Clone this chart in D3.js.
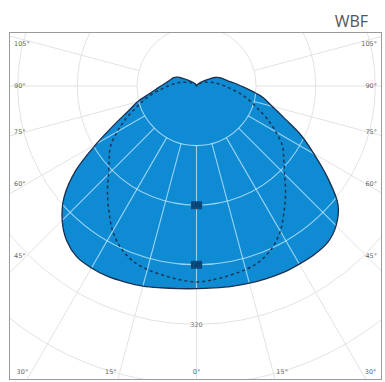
<!DOCTYPE html>
<html>
<head>
<meta charset="utf-8">
<script src="https://cdn.jsdelivr.net/npm/d3@7"></script>
<style>
  html, body { margin: 0; padding: 0; background: #fff; }
  svg { display: block; }
</style>
</head>
<body>
<svg id="chart" width="385" height="382"></svg>
<script>
// ---- data ----
const title = "WBF";
const gammas = [0,5,10,15,20,25,30,35,40,45,50,55,60,65,70,75,80,85,90,95,100,105,110,115,120,125,130,140,150,160,170,180];
// C0 plane (right half), cd/klm
const c0 = [272,272,273,274,275,276,276,276,274,265,248,215,182,154,125,105,91,74,60,50,42,37,33,27,18,12,8,4,2,1,0.5,0];
// C180 plane (left half), cd/klm
const c180 = [272,273,275,278,280,282,282,280,271,255,232,198,155,121,97,82,66,55,48,42,38,35,33,28,20,14,10,5,3,1.5,0.5,0];
// C90/C270 plane (dashed), cd/klm
const c90 = [263,261,258,255,250,240,225,205,186,167,153,141,123,105,87,73,60,47,38,31,25,20,15,12,9,7,5,3,2,1,0.5,0];
const ringValues = [80,160,240,320,400,480];
const ringLabels = ["160","240","320"];
const gridAngles = [-105,-90,-75,-60,-45,-30,-15,0,15,30,45,60,75,90,105];
const sideLabels = ["105°","90°","75°","60°","45°"];
const sideLabelAngles = [105,90,75,60,45];
const bottomLabels = ["30°","15°","0°","15°","30°"];
const bottomLabelAngles = [-30,-15,0,15,30];

// ---- layout ----
const svg = d3.select("#chart");
const cx = 196.5, cy = 86;
const frame = {x: 9.5, y: 32.5, w: 372, h: 347};
const r = d3.scaleLinear().domain([0, 400]).range([0, 298]);
const rad = d => d * Math.PI / 180;

svg.append("text").attr("x", 368).attr("y", 27).attr("text-anchor", "end")
  .attr("font-family", "'Open Sans', sans-serif").attr("font-size", 16)
  .attr("fill", "#555").text(title);

const defs = svg.append("defs");
defs.append("clipPath").attr("id", "frameClip").append("rect")
  .attr("x", frame.x).attr("y", frame.y).attr("width", frame.w).attr("height", frame.h);

// shape data
const right = gammas.map((g, i) => ({a: Math.PI - rad(g), v: c0[i]}));
const left = gammas.map((g, i) => ({a: Math.PI + rad(g), v: c180[i]})).reverse().slice(1, -1);
const mainPts = right.concat(left);
const rightD = gammas.map((g, i) => ({a: Math.PI - rad(g), v: c90[i]}));
const leftD = gammas.map((g, i) => ({a: Math.PI + rad(g), v: c90[i]})).reverse().slice(1, -1);
const dashPts = rightD.concat(leftD);

const radial = d3.lineRadial().angle(d => d.a).radius(d => r(d.v))
  .curve(d3.curveCatmullRomClosed.alpha(0.5));

const plot = svg.append("g").attr("clip-path", "url(#frameClip)");

function drawGrid(g, color, width) {
  const gg = g.append("g").attr("transform", `translate(${cx},${cy})`);
  gg.selectAll("circle").data(ringValues).join("circle")
    .attr("r", d => r(d)).attr("fill", "none").attr("stroke", color).attr("stroke-width", width);
  gg.selectAll("line").data(gridAngles).join("line")
    .attr("x1", d => Math.sin(rad(d)) * r(80)).attr("y1", d => Math.cos(rad(d)) * r(80))
    .attr("x2", d => Math.sin(rad(d)) * r(700)).attr("y2", d => Math.cos(rad(d)) * r(700))
    .attr("stroke", color).attr("stroke-width", width);
}

drawGrid(plot, "#e2e2e2", 1);

defs.append("clipPath").attr("id", "shapeClip").append("path")
  .attr("transform", `translate(${cx},${cy})`).attr("d", radial(mainPts));

plot.append("path").attr("transform", `translate(${cx},${cy})`)
  .attr("d", radial(mainPts)).attr("fill", "#0f8bd4");

const inner = plot.append("g").attr("clip-path", "url(#shapeClip)");
drawGrid(inner, "rgba(200,235,255,0.75)", 1.1);

plot.append("path").attr("transform", `translate(${cx},${cy})`)
  .attr("d", radial(mainPts)).attr("fill", "none")
  .attr("stroke", "#1c2f4d").attr("stroke-width", 1.3);

plot.append("path").attr("transform", `translate(${cx},${cy})`)
  .attr("d", radial(dashPts)).attr("fill", "none")
  .attr("stroke", "#1d3554").attr("stroke-width", 1.5).attr("stroke-dasharray", "3,3");

// ring labels
ringLabels.forEach(t => {
  const v = +t;
  const y = cy + r(v);
  const inside = r(v) < r(c0[0]);
  if (inside) {
    plot.append("rect").attr("x", cx - 5.5).attr("y", y - 4).attr("width", 11).attr("height", 8)
      .attr("fill", "#0b4c82");
  }
  plot.append("text").attr("x", cx).attr("y", y).attr("dy", "0.35em")
    .attr("text-anchor", "middle").attr("font-family", "'DejaVu Sans', sans-serif")
    .attr("font-size", 6.5).attr("fill", inside ? "#0a3a66" : "#777").text(t);
});

// frame
svg.append("rect").attr("x", frame.x).attr("y", frame.y).attr("width", frame.w).attr("height", frame.h)
  .attr("fill", "none").attr("stroke", "#9a9a9a").attr("stroke-width", 1);

// angle labels
const lab = svg.append("g").attr("font-family", "'DejaVu Sans', sans-serif")
  .attr("font-size", 6.5).attr("fill", "#666");
sideLabels.forEach((t, i) => {
  const g = rad(sideLabelAngles[i]);
  let y = cy + 0.97 * (cx - 22) / Math.tan(g);
  if (sideLabelAngles[i] > 90) y += 3;
  lab.append("text").attr("x", 14).attr("y", y).attr("dy", "0.35em").text(t);
  lab.append("text").attr("x", 377).attr("y", y).attr("dy", "0.35em").attr("text-anchor", "end").text(t);
});
bottomLabels.forEach((t, i) => {
  const a = bottomLabelAngles[i];
  const dyB = 372 - cy;
  const off = a === 0 ? 0 : Math.sign(a) * 9;
  const x = cx + dyB * Math.tan(rad(a)) + off;
  lab.append("text").attr("x", x).attr("y", 372).attr("dy", "0.35em")
    .attr("text-anchor", "middle").text(t);
});
</script>
</body>
</html>
